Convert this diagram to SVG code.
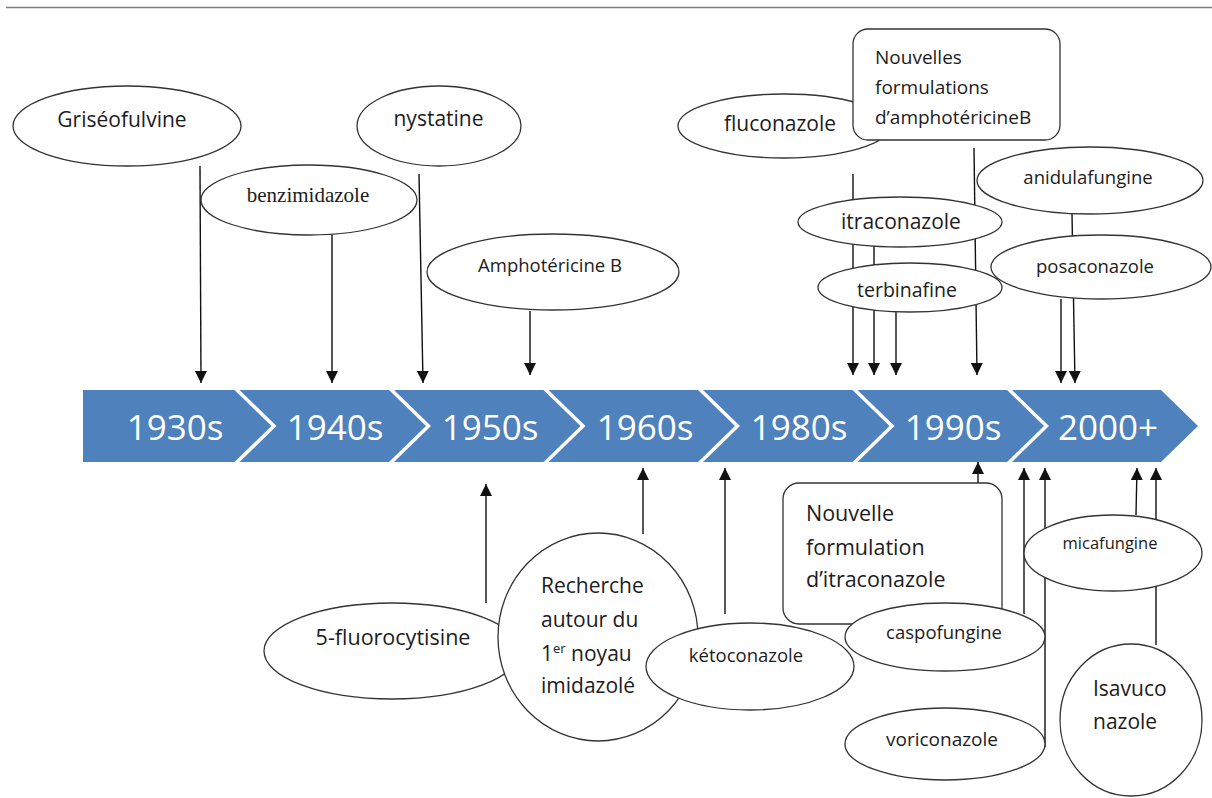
<svg xmlns="http://www.w3.org/2000/svg" width="1212" height="798" viewBox="0 0 1212 798">
<style>
.bg{fill:#ffffff}
.node{fill:#ffffff;stroke:#333333;stroke-width:1.3}
.t{font-family:"Open Sans","Liberation Sans",sans-serif;fill:#1c1c1c}
.c{text-anchor:middle}
.serif{font-family:"Liberation Serif",serif;fill:#1c1c1c;text-anchor:middle}
.chev{fill:#4f81bd}
.yr{font-family:"Open Sans","Liberation Sans",sans-serif;fill:#ffffff;font-size:35px;text-anchor:middle}
.ln{stroke:#111111;stroke-width:1.4;fill:none;marker-end:url(#ah)}
</style>
<defs>
<marker id="ah" viewBox="0 0 12 12" refX="12" refY="6" markerWidth="12" markerHeight="12" markerUnits="userSpaceOnUse" orient="auto">
<path d="M0,0 L12,6 L0,12 z" fill="#111111"/>
</marker>
</defs>
<rect class="bg" x="0" y="0" width="1212" height="798"/>
<line x1="6" y1="7.5" x2="1212" y2="7.5" stroke="#7f7f7f" stroke-width="1.5"/>

<g id="timeline">
<polygon class="chev" points="83,390 234.5,390 271.5,426 234.5,462 83,462"/>
<polygon class="chev" points="239.5,390 389,390 426,426 389,462 239.5,462 276.5,426"/>
<polygon class="chev" points="394,390 543.5,390 580.5,426 543.5,462 394,462 431,426"/>
<polygon class="chev" points="548.5,390 698,390 735,426 698,462 548.5,462 585.5,426"/>
<polygon class="chev" points="703,390 852.5,390 889.5,426 852.5,462 703,462 740,426"/>
<polygon class="chev" points="857.5,390 1007,390 1044,426 1007,462 857.5,462 894.5,426"/>
<polygon class="chev" points="1012,390 1161,390 1198,426 1161,462 1012,462 1049,426"/>
<text class="yr" x="175" y="440">1930s</text>
<text class="yr" x="335" y="440">1940s</text>
<text class="yr" x="490" y="440">1950s</text>
<text class="yr" x="645" y="440">1960s</text>
<text class="yr" x="799" y="440">1980s</text>
<text class="yr" x="953" y="440">1990s</text>
<text class="yr" x="1108" y="440">2000+</text>
</g>

<g id="connectors">
<line class="ln" x1="200" y1="166" x2="201" y2="383"/>
<line class="ln" x1="332" y1="235" x2="332" y2="383"/>
<line class="ln" x1="419" y1="174" x2="423" y2="383"/>
<line class="ln" x1="530" y1="311" x2="530" y2="375"/>
<line class="ln" x1="853" y1="174" x2="853" y2="375"/>
<line class="ln" x1="874" y1="245" x2="874" y2="375"/>
<line class="ln" x1="896" y1="312" x2="896" y2="375"/>
<line class="ln" x1="974" y1="148" x2="977" y2="375"/>
<line class="ln" x1="1072" y1="214" x2="1075" y2="383"/>
<line class="ln" x1="1061" y1="299" x2="1061" y2="383"/>
<line class="ln" x1="486" y1="603" x2="486" y2="484"/>
<line class="ln" x1="643" y1="534" x2="643" y2="468"/>
<line class="ln" x1="725" y1="614" x2="725" y2="468"/>
<line class="ln" x1="978" y1="483" x2="978" y2="462"/>
<line class="ln" x1="1024" y1="614" x2="1024" y2="468"/>
<line class="ln" x1="1045" y1="747" x2="1045" y2="468"/>
<line class="ln" x1="1136" y1="515" x2="1137" y2="468"/>
<line class="ln" x1="1156" y1="645" x2="1156" y2="468"/>
</g>

<g id="griseofulvine">
<ellipse class="node" cx="127" cy="126" rx="114" ry="40"/>
<text class="t c" x="122" y="127" font-size="21">Griséofulvine</text>
</g>
<g id="benzimidazole">
<ellipse class="node" cx="309" cy="200" rx="108" ry="35"/>
<text class="serif" x="308" y="202" font-size="21">benzimidazole</text>
</g>
<g id="nystatine">
<ellipse class="node" cx="439" cy="126" rx="82" ry="40"/>
<text class="t c" x="438.5" y="126" font-size="21">nystatine</text>
</g>
<g id="amphotericineB">
<ellipse class="node" cx="553" cy="272" rx="126" ry="38"/>
<text class="t c" x="550" y="272" font-size="18.5">Amphotéricine B</text>
</g>
<g id="fluconazole">
<ellipse class="node" cx="784" cy="126" rx="106" ry="32"/>
<text class="t c" x="780" y="131" font-size="21">fluconazole</text>
</g>
<g id="nouvelles-formulations">
<rect class="node" x="853" y="29" width="207" height="111" rx="15" ry="15"/>
<text class="t" x="875" y="64" font-size="19">Nouvelles</text>
<text class="t" x="875" y="94" font-size="19">formulations</text>
<text class="t" x="875" y="124" font-size="19">d’amphotéricineB</text>
</g>
<g id="itraconazole">
<ellipse class="node" cx="900" cy="222" rx="102" ry="25"/>
<text class="t c" x="901" y="229" font-size="21">itraconazole</text>
</g>
<g id="terbinafine">
<ellipse class="node" cx="910" cy="287.5" rx="92" ry="24.5"/>
<text class="t c" x="907" y="297" font-size="19.5">terbinafine</text>
</g>
<g id="anidulafungine">
<ellipse class="node" cx="1090" cy="180.5" rx="113" ry="33.5"/>
<text class="t c" x="1088" y="184" font-size="18.5">anidulafungine</text>
</g>
<g id="posaconazole">
<ellipse class="node" cx="1101" cy="267" rx="110" ry="32"/>
<text class="t c" x="1095" y="273" font-size="18.5">posaconazole</text>
</g>

<g id="fluorocytisine">
<ellipse class="node" cx="392" cy="651" rx="128" ry="48"/>
<text class="t c" x="393" y="645" font-size="21.5">5-fluorocytisine</text>
</g>
<g id="recherche-imidazole">
<ellipse class="node" cx="598" cy="637" rx="100" ry="104"/>
<text class="t" x="541" y="593" font-size="21">Recherche</text>
<text class="t" x="541" y="627" font-size="21">autour du</text>
<text class="t" x="541" y="661" font-size="21">1<tspan font-size="13" dy="-8">er</tspan><tspan dy="8"> noyau</tspan></text>
<text class="t" x="541" y="693" font-size="21">imidazolé</text>
</g>
<g id="nouvelle-formulation">
<rect class="node" x="783" y="483" width="219" height="141" rx="16" ry="16"/>
<text class="t" x="806" y="521" font-size="21.5">Nouvelle</text>
<text class="t" x="806" y="555" font-size="21.5">formulation</text>
<text class="t" x="806" y="587" font-size="21.5">d’itraconazole</text>
</g>
<g id="ketoconazole">
<ellipse class="node" cx="750" cy="666.5" rx="104" ry="43.5"/>
<text class="t c" x="746" y="662" font-size="18.5">kétoconazole</text>
</g>
<g id="caspofungine">
<ellipse class="node" cx="945" cy="637" rx="100" ry="34"/>
<text class="t c" x="944" y="639" font-size="18.5">caspofungine</text>
</g>
<g id="micafungine">
<ellipse class="node" cx="1113" cy="553" rx="89" ry="38"/>
<text class="t c" x="1110" y="549" font-size="16.5">micafungine</text>
</g>
<g id="voriconazole">
<ellipse class="node" cx="945" cy="744" rx="100" ry="36"/>
<text class="t c" x="942" y="746" font-size="19">voriconazole</text>
</g>
<g id="isavuconazole">
<ellipse class="node" cx="1131" cy="720" rx="71" ry="76"/>
<text class="t" x="1093" y="696" font-size="21">Isavuco</text>
<text class="t" x="1093" y="729" font-size="21">nazole</text>
</g>
</svg>
